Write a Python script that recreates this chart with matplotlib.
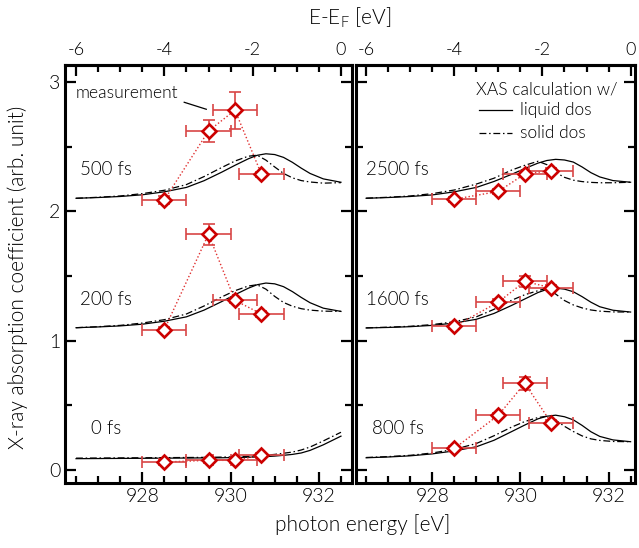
import numpy as np
import matplotlib
matplotlib.use("Agg")
from matplotlib import pyplot as plt
from matplotlib.ticker import MultipleLocator

plt.rcParams['font.family'] = ['Lato', 'DejaVu Sans']
plt.rcParams['font.weight'] = 300

# photon energy grid of the calculated XAS curves (eV)
energy = [926.5, 927.0, 927.5, 928.0, 928.5, 929.0, 929.4, 929.8, 930.1, 930.4,
          930.6, 930.8, 931.0, 931.2, 931.4, 931.6, 931.8, 932.1, 932.5]

# calculated XAS, relative to each trace's vertical offset
liquid_0 = [0.088, 0.089, 0.090, 0.091, 0.092, 0.093, 0.094, 0.095, 0.097, 0.099,
            0.101, 0.104, 0.108, 0.114, 0.121, 0.132, 0.152, 0.195, 0.262]
solid_0 = [0.092, 0.093, 0.094, 0.095, 0.096, 0.097, 0.098, 0.100, 0.103, 0.106,
           0.110, 0.115, 0.121, 0.130, 0.139, 0.155, 0.178, 0.225, 0.292]
liquid_200 = [0.100, 0.106, 0.114, 0.127, 0.150, 0.184, 0.236, 0.302, 0.355, 0.405,
              0.432, 0.445, 0.439, 0.417, 0.379, 0.334, 0.293, 0.251, 0.226]
solid_200 = [0.100, 0.108, 0.118, 0.136, 0.162, 0.206, 0.268, 0.338, 0.386, 0.422,
             0.432, 0.398, 0.342, 0.295, 0.266, 0.247, 0.236, 0.228, 0.226]
liquid_500 = [0.100, 0.106, 0.114, 0.127, 0.150, 0.184, 0.236, 0.302, 0.355, 0.405,
              0.432, 0.444, 0.438, 0.416, 0.378, 0.333, 0.292, 0.250, 0.224]
solid_500 = [0.100, 0.108, 0.118, 0.136, 0.162, 0.206, 0.268, 0.338, 0.388, 0.425,
             0.433, 0.395, 0.342, 0.292, 0.258, 0.237, 0.226, 0.217, 0.221]
liquid_800 = [0.095, 0.101, 0.110, 0.125, 0.148, 0.180, 0.230, 0.297, 0.348, 0.396,
              0.416, 0.424, 0.412, 0.388, 0.345, 0.296, 0.260, 0.233, 0.219]
solid_800 = [0.097, 0.104, 0.114, 0.132, 0.160, 0.205, 0.265, 0.332, 0.375, 0.406,
             0.416, 0.385, 0.338, 0.298, 0.264, 0.241, 0.229, 0.221, 0.219]
liquid_1600 = [0.098, 0.102, 0.108, 0.118, 0.136, 0.165, 0.210, 0.272, 0.322, 0.372,
               0.396, 0.406, 0.398, 0.378, 0.340, 0.297, 0.262, 0.235, 0.221]
solid_1600 = [0.099, 0.104, 0.111, 0.124, 0.146, 0.184, 0.242, 0.312, 0.355, 0.386,
              0.405, 0.360, 0.310, 0.276, 0.253, 0.237, 0.228, 0.222, 0.221]
liquid_2500 = [0.100, 0.106, 0.114, 0.126, 0.150, 0.184, 0.230, 0.285, 0.330, 0.372,
               0.392, 0.401, 0.396, 0.380, 0.342, 0.298, 0.265, 0.237, 0.224]
solid_2500 = [0.101, 0.108, 0.118, 0.136, 0.164, 0.210, 0.255, 0.318, 0.355, 0.386,
              0.360, 0.300, 0.262, 0.240, 0.229, 0.223, 0.220, 0.220, 0.224]

# measured points (photon energy, absorption incl. offset, errors)
meas_energy = [928.5, 929.5, 930.1, 930.7]
meas_xerr = [0.5, 0.5, 0.5, 0.5]
meas_0 = [0.062, 0.075, 0.075, 0.113]
err_0 = [0.02, 0.02, 0.02, 0.02]
meas_200 = [1.085, 1.823, 1.311, 1.206]
err_200 = [0.02, 0.081, 0.02, 0.02]
meas_500 = [2.088, 2.620, 2.781, 2.285]
err_500 = [0.03, 0.085, 0.142, 0.02]
meas_800 = [0.167, 0.424, 0.670, 0.365]
err_800 = [0.02, 0.02, 0.05, 0.02]
meas_1600 = [1.110, 1.298, 1.458, 1.408]
err_1600 = [0.02, 0.02, 0.045, 0.02]
meas_2500 = [2.093, 2.153, 2.288, 2.314]
err_2500 = [0.02, 0.02, 0.02, 0.02]

offsets = [0.0, 1.0, 2.0]
left_labels = ['0 fs', '200 fs', '500 fs']
right_labels = ['800 fs', '1600 fs', '2500 fs']
left_calc = [(liquid_0, solid_0), (liquid_200, solid_200), (liquid_500, solid_500)]
right_calc = [(liquid_800, solid_800), (liquid_1600, solid_1600), (liquid_2500, solid_2500)]
left_meas = [(meas_0, err_0), (meas_200, err_200), (meas_500, err_500)]
right_meas = [(meas_800, err_800), (meas_1600, err_1600), (meas_2500, err_2500)]

E_FERMI = 932.5
RED = '#cc0000'
ERR_RED = '#d84545'
TXT = 'black'
DASHDOT = (0, (5.5, 2.2, 1.2, 2.2))

W, H = 639, 548
fig = plt.figure(figsize=(W / 100, H / 100), dpi=100)


def px_rect(x0, y0, x1, y1):
    return [x0 / W, 1 - y1 / H, (x1 - x0) / W, (y1 - y0) / H]


ax_l = fig.add_axes(px_rect(65, 65, 352, 483))
ax_r = fig.add_axes(px_rect(356, 65, 635, 483))


def draw_panel(ax, calc, meas, labels, xlim, label_x):
    for off, (liq, sol), (m, err), lab in zip(offsets, calc, meas, labels):
        ax.plot(energy, np.array(liq) + off, color='black', lw=0.9)
        ax.plot(energy, np.array(sol) + off, color='black', lw=0.9, linestyle=DASHDOT)
        ax.plot(meas_energy, m, color='#e03030', lw=1.0, linestyle=(0, (1, 1.6)), zorder=3)
        ax.errorbar(meas_energy, m, xerr=meas_xerr, yerr=err, fmt='none',
                    ecolor=ERR_RED, elinewidth=1.2, capsize=4, capthick=1.2, zorder=4)
        ax.plot(meas_energy, m, linestyle='none', marker='D', ms=6.8,
                mfc='white', mec=RED, mew=1.9, zorder=5)
        ax.text(label_x, off + 0.32, lab, fontsize=13.5, color=TXT,
                ha='center', va='center')

    ax.set_xlim(*xlim)
    ax.set_ylim(-0.1, 3.13)
    ax.xaxis.set_major_locator(MultipleLocator(2))
    ax.xaxis.set_minor_locator(MultipleLocator(0.5))
    ax.yaxis.set_major_locator(MultipleLocator(1))
    ax.yaxis.set_minor_locator(MultipleLocator(0.5))
    ax.tick_params(which='both', direction='in', top=False, right=True,
                   width=1.6, colors='black', labelsize=14, labelcolor=TXT)
    ax.tick_params(which='major', length=8)
    ax.tick_params(which='minor', length=5)
    for s in ax.spines.values():
        s.set_linewidth(2.2)

    top = ax.secondary_xaxis('top', functions=(lambda e: e - E_FERMI,
                                               lambda d: d + E_FERMI))
    top.xaxis.set_major_locator(MultipleLocator(2))
    top.xaxis.set_minor_locator(MultipleLocator(0.5))
    top.tick_params(which='both', direction='in', width=1.6,
                    labelsize=13, labelcolor=TXT, pad=5)
    top.tick_params(which='major', length=8)
    top.tick_params(which='minor', length=5)
    top.set_xticks([-6, -4, -2, 0])
    top.set_xticklabels(['-6', '-4', '-2', '0'])
    top.spines['top'].set_linewidth(2.2)
    return top


draw_panel(ax_l, left_calc, left_meas, left_labels, (926.25, 932.75), 927.18)
draw_panel(ax_r, right_calc, right_meas, right_labels, (926.27, 932.6), 927.22)
ax_l.set_yticks([0, 1, 2, 3])
ax_r.tick_params(labelleft=False)

# axis titles
fig.text(363 / W, 1 - 525 / H, 'photon energy [eV]', fontsize=15,
         ha='center', va='center', color=TXT)
fig.text(350 / W, 1 - 18 / H, r'E-E$_\mathregular{F}$ [eV]', fontsize=15,
         ha='center', va='center', color=TXT)
fig.text(18 / W, 1 - 277 / H, 'X-ray absorption coefficient (arb. unit)', fontsize=15,
         rotation=90, ha='center', va='center', color=TXT)

# measurement annotation with leader line
ax_l.text(927.66, 2.915, 'measurement', fontsize=12.5, color=TXT,
          ha='center', va='center')
ax_l.plot([928.95, 929.45], [2.842, 2.788], color='black', lw=0.9)

# legend of the calculations
ax_r.text(929.0, 2.94, 'XAS calculation w/', fontsize=12.5, color=TXT,
          ha='left', va='center')
ax_r.plot([929.05, 929.8], [2.78, 2.78], color='black', lw=0.9)
ax_r.plot([929.05, 929.8], [2.605, 2.605], color='black', lw=0.9, linestyle=DASHDOT)
ax_r.text(930.0, 2.78, 'liquid dos', fontsize=12.5, color=TXT, ha='left', va='center')
ax_r.text(930.0, 2.605, 'solid dos', fontsize=12.5, color=TXT, ha='left', va='center')

fig.savefig('out.png', dpi=100)
